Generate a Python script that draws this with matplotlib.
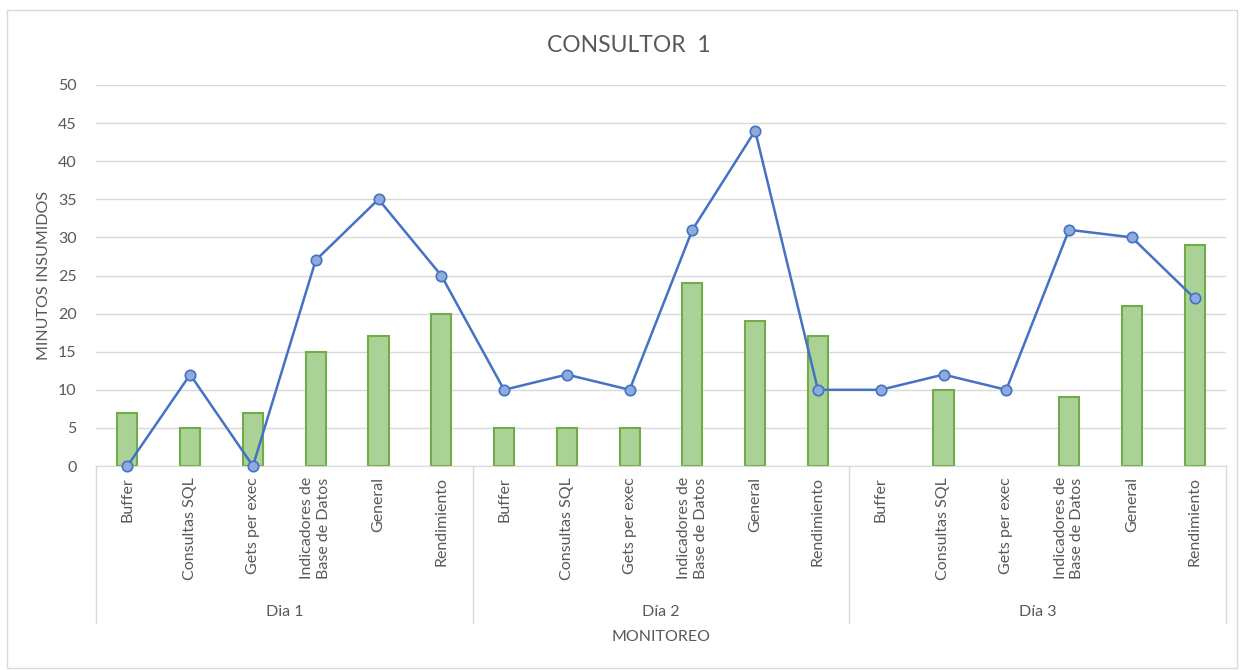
import matplotlib.pyplot as plt
import matplotlib.patches as patches

# Datos
dias = ['Dia 1', 'Día 2', 'Día 3']
categorias = ['Buffer', 'Consultas SQL', 'Gets per exec',
              'Indicadores de\nBase de Datos', 'General', 'Rendimiento']
barras = [7, 5, 7, 15, 17, 20,
          5, 5, 5, 24, 19, 17,
          0, 10, 0, 9, 21, 29]
linea = [0, 12, 0, 27, 35, 25,
         10, 12, 10, 31, 44, 10,
         10, 12, 10, 31, 30, 22]

gris = '#595959'
plt.rcParams['font.family'] = ['Lato', 'DejaVu Sans']

fig = plt.figure(figsize=(12.44, 6.70), dpi=100)
W, H = 1244, 670

# marco del gráfico
fig.add_artist(patches.Rectangle((7 / W, 1 - 668 / H), 1230 / W, 658 / H,
                                 transform=fig.transFigure, fill=False,
                                 edgecolor='#d9d9d9', linewidth=1))

ax = fig.add_axes([96 / W, 1 - 466 / H, 1130 / W, 381 / H])
n = len(barras)
x = list(range(n))

# sin borde en las barras de valor 0
bordes = ['#70ad47' if v > 0 else 'none' for v in barras]
ax.bar(x, barras, width=0.32, color='#abd296', edgecolor=bordes,
       linewidth=1.5, zorder=2)
ax.plot(x, linea, color='#4472c4', linewidth=1.8, marker='o', markersize=7.5,
        markerfacecolor='#8faadc', markeredgecolor='#4472c4',
        markeredgewidth=1.2, zorder=3, clip_on=False)

ax.set_xlim(-0.5, n - 0.5)
ax.set_ylim(0, 50)
ax.set_yticks(range(0, 51, 5))
ax.yaxis.grid(True, color='#d9d9d9', linewidth=1)
ax.set_axisbelow(True)
for s in ['top', 'right', 'left']:
    ax.spines[s].set_visible(False)
ax.spines['bottom'].set_color('#d9d9d9')
ax.tick_params(axis='y', length=0, labelsize=11.5, labelcolor=gris, pad=14)
ax.tick_params(axis='x', length=0, labelsize=11.5, labelcolor=gris, pad=8)

ax.set_xticks(x)
ax.set_xticklabels(categorias * len(dias), rotation=90, va='top',
                   linespacing=1.25)

# separadores y etiquetas de grupo
tr = ax.get_xaxis_transform()
for i in range(len(dias) + 1):
    ax.plot([i * 6 - 0.5, i * 6 - 0.5], [0, -0.412], transform=tr,
            color='#d9d9d9', linewidth=1, clip_on=False)
for i, d in enumerate(dias):
    ax.text(i * 6 + 2.5, -0.383, d, transform=tr, ha='center', va='center',
            fontsize=11.5, color=gris)

fig.text(661 / W, 1 - 637 / H, 'MONITOREO', ha='center', va='center',
         fontsize=11.5, color=gris)
fig.text(44 / W, 1 - 275 / H, 'MINUTOS INSUMIDOS', ha='center', va='center',
         rotation=90, fontsize=11.5, color=gris)
fig.text(629 / W, 1 - 45 / H, 'CONSULTOR  1', ha='center', va='center',
         fontsize=16.5, color=gris)

fig.savefig('out.png', dpi=100)
